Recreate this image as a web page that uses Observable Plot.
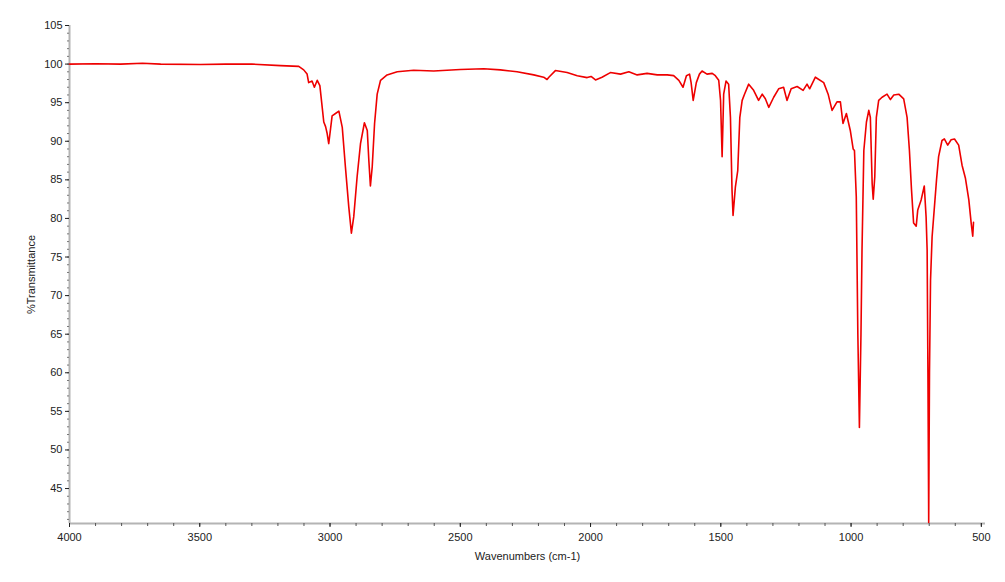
<!DOCTYPE html>
<html><head><meta charset="utf-8">
<script src="https://cdn.jsdelivr.net/npm/d3@7"></script>
<script src="https://cdn.jsdelivr.net/npm/@observablehq/plot@0.6"></script>
<style>body{margin:0;background:#fff;}</style>
</head><body><div id="chart"></div>
<script>
// IR spectrum: wavenumber (cm-1) and % transmittance
const wavenumbers = [4000,3900,3804,3720,3650,3497,3400,3300,3190,3120,3101,3088,3082,3069,3060,3049,3039,3030,3024,3017,3011,3005,2998,2992,2979,2966,2953,2941,2928,2918,2909,2896,2883,2868,2857,2851,2845,2838,2829,2819,2806,2781,2742,2679,2602,2500,2410,2346,2282,2218,2180,2167,2160,2135,2090,2051,2013,1998,1981,1956,1924,1885,1853,1821,1783,1744,1706,1681,1661,1645,1632,1620,1614,1606,1594,1582,1572,1553,1533,1521,1508,1501,1495,1489,1480,1470,1463,1457,1453,1444,1435,1427,1418,1409,1393,1374,1355,1341,1329,1316,1297,1278,1259,1246,1230,1207,1184,1169,1159,1137,1105,1088,1073,1054,1041,1031,1018,1003,992,987,980,974,968,962,958,951,941,932,926,919,915,909,903,894,881,862,849,836,817,798,785,776,768,760,750,744,731,719,712,708,705,702,699,695,689,672,664,651,642,629,616,603,587,574,561,548,539,533,530];
const transmittance = [100.0,100.05,100.0,100.1,100.0,99.95,100.0,100.0,99.8,99.7,99.25,98.7,97.6,97.8,97.0,97.9,97.2,94.4,92.5,91.9,91.0,89.7,91.6,93.3,93.6,93.9,91.8,86.7,81.5,78.1,80.2,85.4,89.7,92.4,91.4,87.5,84.2,86.7,92.3,96.1,97.9,98.6,99.0,99.2,99.1,99.3,99.4,99.25,99.0,98.6,98.3,98.0,98.3,99.16,98.9,98.5,98.25,98.4,97.95,98.3,98.9,98.7,99.0,98.6,98.8,98.6,98.6,98.5,97.9,97.0,98.5,98.7,97.6,95.3,97.6,98.7,99.1,98.7,98.8,98.5,97.9,95.3,88.0,96.1,97.8,97.4,93.1,83.7,80.4,84.1,86.2,93.1,95.3,96.1,97.4,96.6,95.3,96.1,95.5,94.4,95.7,96.8,97.0,95.3,96.8,97.1,96.6,97.4,96.8,98.3,97.6,96.1,94.0,95.1,95.1,92.3,93.6,91.4,89.0,88.8,82.8,65.0,52.9,65.0,75.9,88.8,92.5,94.0,93.1,84.5,82.5,85.4,93.1,95.3,95.7,96.1,95.4,96.0,96.1,95.5,93.1,88.8,83.7,79.4,79.0,81.1,82.4,84.2,80.2,75.9,60.0,40.6,60.0,72.0,77.6,85.0,88.0,90.1,90.3,89.5,90.2,90.3,89.5,86.9,85.2,82.4,79.4,77.7,79.5];
const xTicks = [4000,3500,3000,2500,2000,1500,1000,500];
const yTicks = [45,50,55,60,65,70,75,80,85,90,95,100,105];
const xMinor = d3.range(500, 4001, 100);
const yMinor = d3.range(41, 106, 1);
const xLabel = "Wavenumbers (cm-1)";
const yLabel = "%Transmittance";

const data = wavenumbers.map((w, i) => ({w, t: transmittance[i]}));
const yMin = 40.47;

const chart = Plot.plot({
  width: 1005,
  height: 582,
  marginLeft: 69,
  marginRight: 20,
  marginTop: 25,
  marginBottom: 59,
  style: {fontFamily: "'Liberation Sans', Arial, sans-serif", fontSize: "11px", color: "#222", background: "#fff"},
  x: {domain: [4000, 484]},
  y: {domain: [yMin, 105]},
  marks: [
    Plot.ruleY([yMin], {stroke: "#b4b4b4", strokeWidth: 2}),
    Plot.ruleX([4000], {stroke: "#b4b4b4", strokeWidth: 2}),
    Plot.axisX({ticks: xMinor, tickSize: 3, tickFormat: () => "", label: null, stroke: "#555"}),
    Plot.axisY({ticks: yMinor, tickSize: 2, tickFormat: () => "", label: null, stroke: "#777"}),
    Plot.axisX({ticks: xTicks, tickSize: 4, tickPadding: 6, tickFormat: d => String(d), label: xLabel, labelAnchor: "center", labelOffset: 36, labelArrow: "none", fontSize: 11}),
    Plot.axisY({ticks: yTicks, tickSize: 4, tickPadding: 3, tickFormat: d => String(d), label: yLabel, labelAnchor: "center", labelOffset: 42, labelArrow: "none", fontSize: 11}),
    Plot.line(data, {x: "w", y: "t", stroke: "#ee0000", strokeWidth: 1.6, curve: "linear"})
  ]
});
document.getElementById("chart").appendChild(chart);
</script>
</body></html>
